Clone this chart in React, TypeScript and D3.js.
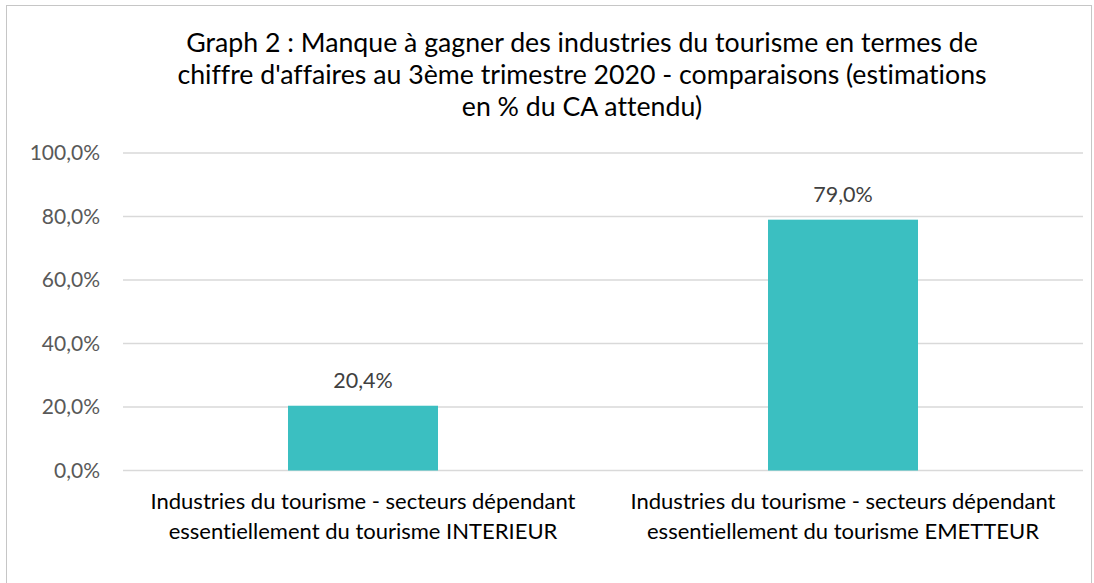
import React from "react";
import * as d3 from "d3";

const categories = [
  ["Industries du tourisme - secteurs dépendant", "essentiellement du tourisme INTERIEUR"],
  ["Industries du tourisme - secteurs dépendant", "essentiellement du tourisme EMETTEUR"],
];
const values = [20.4, 79.0];
const yTicks = [0, 20, 40, 60, 80, 100];
const titleLines = [
  "Graph 2 : Manque à gagner des industries du tourisme en termes de",
  "chiffre d'affaires au 3ème trimestre 2020 - comparaisons (estimations",
  "en % du CA attendu)",
];

const W = 1094;
const H = 583;
const FONT = "Lato, 'Open Sans', sans-serif";
const noLig = { fontVariantLigatures: "none" as const, fontFeatureSettings: "'liga' 0, 'clig' 0" };

const fmt = (v: number) => v.toFixed(1).replace(".", ",") + "%";

export default function App() {
  const x = d3
    .scaleBand<number>()
    .domain(values.map((_, i) => i))
    .range([123, 1083])
    .paddingInner(0.6875)
    .paddingOuter(0.34375);
  const y = d3.scaleLinear().domain([0, 100]).range([470.5, 153]);

  return (
    <svg width={W} height={H} style={{ position: "absolute", left: 0, top: 0, ...noLig }}>
      <rect x={0} y={0} width={W} height={H} fill="#fff" />
      <rect x={6.5} y={5.5} width={1085} height={590} fill="none" stroke="#c6c6c6" strokeWidth={1} />
      {titleLines.map((t, i) => (
        <text
          key={i}
          x={582}
          y={52 + i * 32}
          textAnchor="middle"
          fontFamily={FONT}
          fontSize={26.7}
          fill="#000"
          style={noLig}
        >
          {t}
        </text>
      ))}
      {yTicks.map((t) => (
        <g key={t}>
          <line x1={123} x2={1083} y1={y(t)} y2={y(t)} stroke="#d9d9d9" strokeWidth={1.3} />
          <text
            x={100}
            y={y(t)}
            dy="0.35em"
            textAnchor="end"
            fontFamily={FONT}
            fontSize={21}
            fill="#595959"
          >
            {fmt(t)}
          </text>
        </g>
      ))}
      {values.map((v, i) => (
        <g key={i}>
          <rect
            x={x(i)!}
            y={y(v)}
            width={x.bandwidth()}
            height={y(0) - y(v)}
            fill="#3bbfc1"
          />
          <text
            x={x(i)! + x.bandwidth() / 2}
            y={y(v) - 18}
            textAnchor="middle"
            fontFamily={FONT}
            fontSize={21.5}
            fill="#404040"
          >
            {fmt(v)}
          </text>
          {categories[i].map((line, j) => (
            <text
              key={j}
              x={x(i)! + x.bandwidth() / 2}
              y={509 + j * 30}
              textAnchor="middle"
              fontFamily={FONT}
              fontSize={22}
              fill="#000"
              style={noLig}
            >
              {line}
            </text>
          ))}
        </g>
      ))}
    </svg>
  );
}
